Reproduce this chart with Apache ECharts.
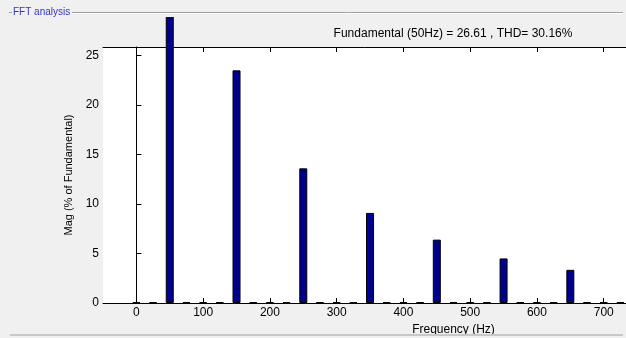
<!DOCTYPE html>
<html>
<head>
<meta charset="utf-8">
<script src="https://cdn.jsdelivr.net/npm/echarts@6/dist/echarts.min.js"></script>
<style>
html,body{margin:0;padding:0;background:#f0f0f0;}
#c{width:626px;height:338px;}
</style>
</head>
<body>
<div id="c"></div>
<script>
// ---- data ----
var frequencies = [0,25,50,75,100,125,150,175,200,225,250,275,300,325,350,375,400,425,450,475,500,525,550,575,600,625,650,675,700,725];
// magnitude in % of fundamental (50 Hz = 100 %, clipped by the panel in the picture)
var magnitudes  = [0,0,100,0,0,0,23.5,0,0,0,13.6,0,0,0,9.1,0,0,0,6.4,0,0,0,4.5,0,0,0,3.35,0,0,0];
var xTickValues = [0,100,200,300,400,500,600,700,800,900,1000];
var yTickValues = [0,5,10,15,20,25];
var titleText = 'Fundamental (50Hz) = 26.61 , THD= 30.16%';
var panelTitle = 'FFT analysis';

var FONT = '"Liberation Sans", Arial, sans-serif';
var chart = echarts.init(document.getElementById('c'), null, {renderer:'canvas'});
var barData = frequencies.map(function(f,i){ return [f, magnitudes[i]]; });

chart.setOption({
  backgroundColor: '#f0f0f0',
  animation: false,
  grid: {left:103, top:47, width:701, height:256, show:true, backgroundColor:'#ffffff', borderWidth:0, containLabel:false, outerBoundsMode:'none'},
  xAxis: [{
    type:'value', min:-50, max:1000, position:'bottom',
    name:'Frequency (Hz)', nameLocation:'middle', nameGap:14,
    nameTextStyle:{fontFamily:FONT, fontSize:12, color:'#000'},
    axisLine:{show:true, lineStyle:{color:'#000', width:1}},
    axisTick:{show:true, inside:true, length:5, customValues:xTickValues, lineStyle:{color:'#000'}},
    axisLabel:{show:true, customValues:xTickValues, margin:4, fontFamily:FONT, fontSize:12, color:'#000', formatter:function(v){return String(v);}},
    splitLine:{show:false}
  },{
    type:'value', min:-50, max:1000, position:'top',
    axisLine:{show:true, lineStyle:{color:'#000', width:1}},
    axisTick:{show:true, inside:true, length:5, customValues:xTickValues, lineStyle:{color:'#000'}},
    axisLabel:{show:false},
    splitLine:{show:false}
  }],
  yAxis: [{
    type:'value', min:0, max:25.86,
    name:'Mag (% of Fundamental)', nameLocation:'middle', nameGap:20,
    nameTextStyle:{fontFamily:FONT, fontSize:11, color:'#000'},
    axisLine:{show:true, lineStyle:{color:'#000', width:1}},
    axisTick:{show:true, inside:true, length:5, customValues:yTickValues, lineStyle:{color:'#000'}},
    axisLabel:{show:true, customValues:yTickValues, margin:4, fontFamily:FONT, fontSize:12, color:'#000'},
    splitLine:{show:false}
  }],
  series: [{
    type:'bar', xAxisIndex:0, yAxisIndex:0,
    data: barData, clip:false,
    barWidth:8, barMinHeight:1,
    itemStyle:{color:'#00008f', borderColor:'#000', borderWidth:1}
  }],
  graphic: [
    // cover for the clipped fundamental bar above the panel
    {type:'rect', z:100, shape:{x:150, y:0, width:40, height:17}, style:{fill:'#f0f0f0'}},
    {type:'line', z:101, shape:{x1:72, y1:12.5, x2:623, y2:12.5}, style:{stroke:'#a0a0a0', lineWidth:1}},
    {type:'line', z:101, shape:{x1:72, y1:13.5, x2:623, y2:13.5}, style:{stroke:'#ffffff', lineWidth:1}},
    {type:'line', z:101, shape:{x1:9, y1:12.5, x2:12, y2:12.5}, style:{stroke:'#a0a0a0', lineWidth:1}},
    {type:'line', z:101, shape:{x1:10, y1:335, x2:623, y2:335}, style:{stroke:'#c8c8c8', lineWidth:2}},
    {type:'text', z:102, x:13, y:12, style:{text:panelTitle, font:'10px '+FONT, fill:'#3333cc', textVerticalAlign:'middle', textAlign:'left'}},
    {type:'text', z:102, x:453, y:34, style:{text:titleText, font:'12px '+FONT, fill:'#000', textVerticalAlign:'middle', textAlign:'center'}}
  ]
});
</script>
</body>
</html>
